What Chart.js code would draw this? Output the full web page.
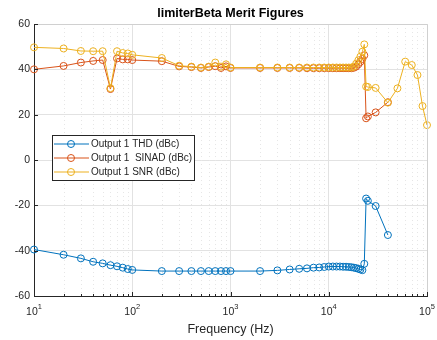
<!DOCTYPE html>
<html>
<head>
<meta charset="utf-8">
<script src="https://cdn.jsdelivr.net/npm/chart.js@4/dist/chart.umd.min.js"></script>
<style>
  html, body { margin: 0; padding: 0; background: #fff; }
  #wrap { width: 437px; height: 340px; }
</style>
</head>
<body>
<div id="wrap"><canvas id="meritChart" width="437" height="340"></canvas></div>
<script>
// frequencies (Hz)
const freqs = [10, 20, 30, 40, 50, 60, 70, 80, 90, 100,
  200, 300, 400, 500, 600, 700, 800, 900, 1000,
  2000, 3000, 4000, 5000, 6000, 7000, 8000, 9000, 10000,
  11000, 12000, 13000, 14000, 15000, 16000, 17000, 18000, 19000, 20000, 21000, 22000, 23000,
  24000, 25000, 30000, 40000, 50000, 60000, 70000, 80000, 90000, 100000];

const thd = [-39.5, -41.8, -43.4, -44.9, -45.6, -46.4, -46.9, -47.5, -48.1, -48.5,
  -49, -49, -49, -49, -49, -49, -49, -49, -49,
  -49, -48.7, -48.3, -48, -47.8, -47.5, -47.4, -47.2, -47,
  -47, -47, -47, -47.1, -47.1, -47.2, -47.3, -47.5, -47.7, -48, -48.3, -48.6, -45.8,
  -17, -18, -20.3, -33.1, null, null, null, null, null, null];

const sinad = [40, 41.5, 43, 43.7, 44.1, 31.3, 44.8, 44.4, 44.4, 44.1,
  43.6, 41.3, 41, 40.6, 41, 41.4, 40.6, 41.3, 40.6,
  40.6, 40.6, 40.6, 40.6, 40.5, 40.5, 40.5, 40.5, 40.5,
  40.5, 40.5, 40.5, 40.5, 40.5, 40.5, 40.5, 40.7, 41.2, 42.2, 43.3, 44.6, 46.2,
  18.4, 19.2, 21, 25.5, null, null, null, null, null, null];

const snr = [49.7, 49.2, 48.1, 48, 48, 31.7, 48, 47.2, 47, 46.4,
  45, 41.6, 41.2, 40.8, 41.2, 43, 41.2, 42.2, 40.8,
  40.8, 40.8, 40.8, 40.8, 40.8, 40.8, 40.8, 40.8, 40.8,
  40.8, 40.8, 40.8, 40.8, 40.8, 40.8, 40.8, 41.2, 42.5, 44, 45.6, 47.8, 51,
  32.4, 32.2, 31.8, 25.3, 31.6, 43.4, 41.9, 37.5, 23.8, 15.4];

const seriesNames = ["Output 1 THD (dBc)", "Output 1  SINAD (dBc)", "Output 1 SNR (dBc)"];
const xDecades = [10, 100, 1000, 10000, 100000];
const xExponents = ["1", "2", "3", "4", "5"];
const yTicks = [-60, -40, -20, 0, 20, 40, 60];

const FONT = "'Liberation Sans', Arial, sans-serif";
const colors = ["#0072BD", "#D95319", "#EDB120"];

function toPoints(arr) {
  return freqs.map((f, i) => ({ x: f, y: arr[i] }));
}

function makeSet(label, arr, color, order) {
  return {
    label,
    data: toPoints(arr),
    borderColor: color,
    backgroundColor: "rgba(0,0,0,0)",
    borderWidth: 1,
    pointRadius: 3.5,
    pointBorderWidth: 1,
    pointBackgroundColor: "rgba(0,0,0,0)",
    pointBorderColor: color,
    tension: 0,
    clip: 8,
    order,
  };
}

// MATLAB-like extras: minor grid, inward ticks, x labels, title, legend
const matlabLook = {
  id: "matlabLook",
  beforeDatasetsDraw(chart) {
    const { ctx, chartArea: a, scales: { x } } = chart;
    ctx.save();
    ctx.strokeStyle = "#e6e6e6";
    ctx.lineWidth = 1;
    ctx.setLineDash([1, 3]);
    for (let d = 10; d < 100000; d *= 10) {
      for (let m = 2; m <= 9; m++) {
        const px = Math.round(x.getPixelForValue(d * m)) + 0.5;
        ctx.beginPath();
        ctx.moveTo(px, a.top);
        ctx.lineTo(px, a.bottom);
        ctx.stroke();
      }
    }
    ctx.restore();
  },
  afterDraw(chart) {
    const { ctx, chartArea: a, scales: { x, y } } = chart;
    ctx.save();

    // top / right box lines
    ctx.strokeStyle = "#d0d0d0";
    ctx.lineWidth = 1;
    ctx.beginPath();
    ctx.moveTo(a.left, a.top + 0.5);
    ctx.lineTo(a.right + 0.5, a.top + 0.5);
    ctx.lineTo(a.right + 0.5, a.bottom);
    ctx.stroke();

    // inward ticks
    ctx.strokeStyle = "#262626";
    ctx.beginPath();
    for (let d = 10; d <= 100000; d *= 10) {
      for (let m = 1; m <= 9; m++) {
        const v = d * m;
        if (v > 100000) break;
        const px = Math.round(x.getPixelForValue(v)) + 0.5;
        const len = m === 1 ? 4 : 2;
        ctx.moveTo(px, a.bottom);
        ctx.lineTo(px, a.bottom - len);
      }
    }
    yTicks.forEach((v) => {
      const py = Math.round(y.getPixelForValue(v)) + 0.5;
      ctx.moveTo(a.left, py);
      ctx.lineTo(a.left + 4, py);
    });
    ctx.stroke();

    // x tick labels 10^n
    ctx.fillStyle = "#262626";
    ctx.textBaseline = "middle";
    xDecades.forEach((v, i) => {
      const px = x.getPixelForValue(v);
      ctx.font = "10.5px " + FONT;
      const wBase = ctx.measureText("10").width;
      ctx.font = "7.5px " + FONT;
      const wExp = ctx.measureText(xExponents[i]).width;
      const start = px - (wBase + wExp) / 2;
      ctx.textAlign = "left";
      ctx.font = "10.5px " + FONT;
      ctx.fillText("10", start, a.bottom + 16);
      ctx.font = "7.5px " + FONT;
      ctx.fillText(xExponents[i], start + wBase, a.bottom + 11);
    });

    // x axis title
    ctx.textAlign = "center";
    ctx.font = "12.5px " + FONT;
    ctx.fillText("Frequency (Hz)", (a.left + a.right) / 2, a.bottom + 34);

    // chart title
    ctx.fillStyle = "#000";
    ctx.font = "bold 12.5px " + FONT;
    ctx.fillText("limiterBeta Merit Figures", (a.left + a.right) / 2, 13.5);

    // legend
    const lx = a.left + 18, ly = a.top + 111, lw = 142, lh = 45;
    ctx.fillStyle = "#fff";
    ctx.fillRect(lx, ly, lw, lh);
    ctx.strokeStyle = "#262626";
    ctx.lineWidth = 1;
    ctx.strokeRect(lx + 0.5, ly + 0.5, lw, lh);
    ctx.font = "10px " + FONT;
    ctx.textAlign = "left";
    seriesNames.forEach((name, i) => {
      const ry = ly + 9 + i * 14;
      ctx.strokeStyle = colors[i];
      ctx.beginPath();
      ctx.moveTo(lx + 2, ry);
      ctx.lineTo(lx + 37, ry);
      ctx.stroke();
      ctx.beginPath();
      ctx.arc(lx + 19, ry, 3.5, 0, Math.PI * 2);
      ctx.stroke();
      ctx.fillStyle = "#262626";
      ctx.fillText(name, lx + 39, ry + 0.5);
    });

    ctx.restore();
  },
};

new Chart(document.getElementById("meritChart"), {
  type: "line",
  data: {
    datasets: [
      makeSet(seriesNames[0], thd, colors[0], 3),
      makeSet(seriesNames[1], sinad, colors[1], 2),
      makeSet(seriesNames[2], snr, colors[2], 1),
    ],
  },
  options: {
    responsive: false,
    animation: false,
    devicePixelRatio: 1,
    layout: { padding: { top: 24, right: 10, left: 0, bottom: 0 } },
    plugins: {
      legend: { display: false },
      title: { display: false },
      tooltip: { enabled: false },
    },
    scales: {
      x: {
        type: "logarithmic",
        min: 10,
        max: 100000,
        afterBuildTicks: (scale) => {
          scale.ticks = xDecades.map((v) => ({ value: v }));
        },
        afterFit: (scale) => {
          scale.height = 44;
        },
        ticks: { display: false },
        grid: { color: "#e2e2e2", drawTicks: false },
        border: { display: true, color: "#262626", width: 1 },
      },
      y: {
        type: "linear",
        min: -60,
        max: 60,
        afterBuildTicks: (scale) => {
          scale.ticks = yTicks.map((v) => ({ value: v }));
        },
        afterFit: (scale) => {
          scale.width = 34;
        },
        ticks: {
          padding: 4,
          color: "#262626",
          font: { family: FONT, size: 10.5 },
        },
        grid: { color: "#e2e2e2", drawTicks: false },
        border: { display: true, color: "#262626", width: 1 },
      },
    },
  },
  plugins: [matlabLook],
});
</script>
</body>
</html>
